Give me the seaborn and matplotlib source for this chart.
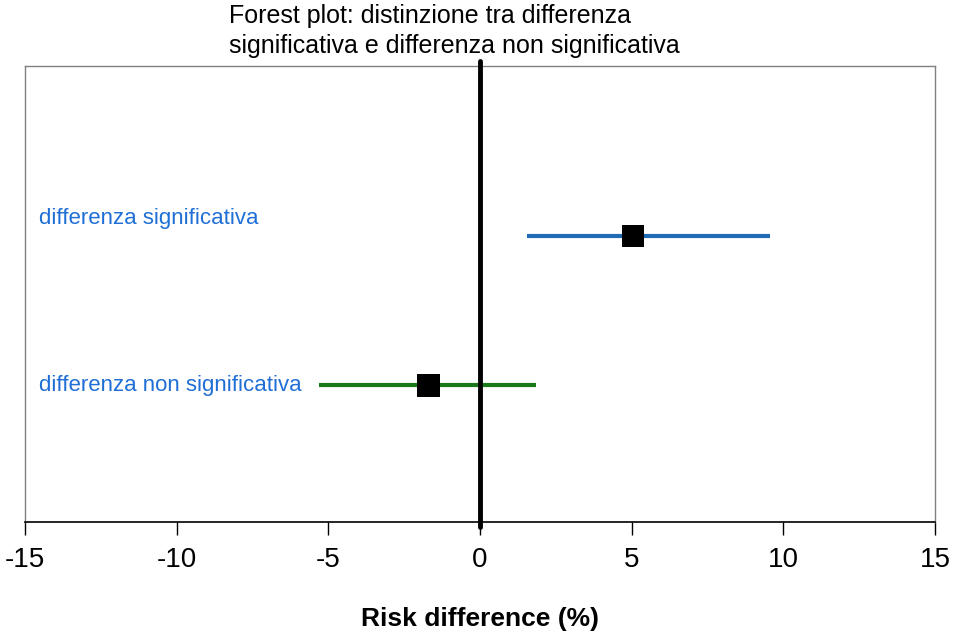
import matplotlib
matplotlib.use("Agg")
import matplotlib.pyplot as plt
import pandas as pd
import seaborn as sns

# Forest plot data (risk difference, %)
labels = ["differenza significativa", "differenza non significativa"]
estimates = [5.05, -1.7]
ci_low = [1.55, -5.3]
ci_high = [9.55, 1.85]
y_pos = [1.88, 0.9]
label_y = [2.0, 0.9]
line_colors = ["#1f6bb5", "#1a7a1a"]
label_color = "#1f6fd6"
x_ticks = [-15, -10, -5, 0, 5, 10, 15]

sns.set_theme(style="white")
plt.rcParams["font.family"] = ["Liberation Sans", "DejaVu Sans"]
plt.rcParams["text.color"] = "black"
plt.rcParams["xtick.color"] = "black"
plt.rcParams["axes.labelcolor"] = "black"

df = pd.DataFrame({"label": labels, "est": estimates, "lo": ci_low, "hi": ci_high,
                   "y": y_pos, "ly": label_y})

fig = plt.figure(figsize=(9.59, 6.4), dpi=100)
ax = fig.add_axes([0.026, 0.184, 0.949, 0.713])

# confidence intervals
ax.hlines(df["y"], df["lo"], df["hi"], colors=line_colors, linewidth=3, zorder=2)
# point estimates
sns.scatterplot(data=df, x="est", y="y", marker="s", s=260, color="black",
                edgecolor="none", zorder=3, ax=ax, legend=False)

# line of no effect
ax.axvline(0, ymin=-0.01, ymax=1.01, color="black", linewidth=3.5, clip_on=False, zorder=4)

for lab, y in zip(df["label"], df["ly"]):
    ax.text(-14.55, y, lab, color=label_color, fontsize=16, ha="left", va="center")

ax.set_xlim(-15, 15)
ax.set_ylim(0, 3)
ax.set_xticks(x_ticks)
ax.set_xticklabels([str(t) for t in x_ticks], fontsize=20)
ax.set_yticks([])
ax.tick_params(axis="x", direction="out", length=9, width=1, color="black", pad=9, bottom=True)
ax.set_xlabel("Risk difference (%)", fontsize=19, fontweight="bold", labelpad=24)
ax.set_ylabel("")

for side in ["top", "right", "left"]:
    ax.spines[side].set_color("#808080")
    ax.spines[side].set_linewidth(1)
ax.spines["bottom"].set_color("black")
ax.spines["bottom"].set_linewidth(1.2)

fig.text(0.239, 0.993, "Forest plot: distinzione tra differenza\nsignificativa e differenza non significativa",
         fontsize=18, ha="left", va="top", linespacing=1.3)

fig.savefig("out.png", dpi=100)
